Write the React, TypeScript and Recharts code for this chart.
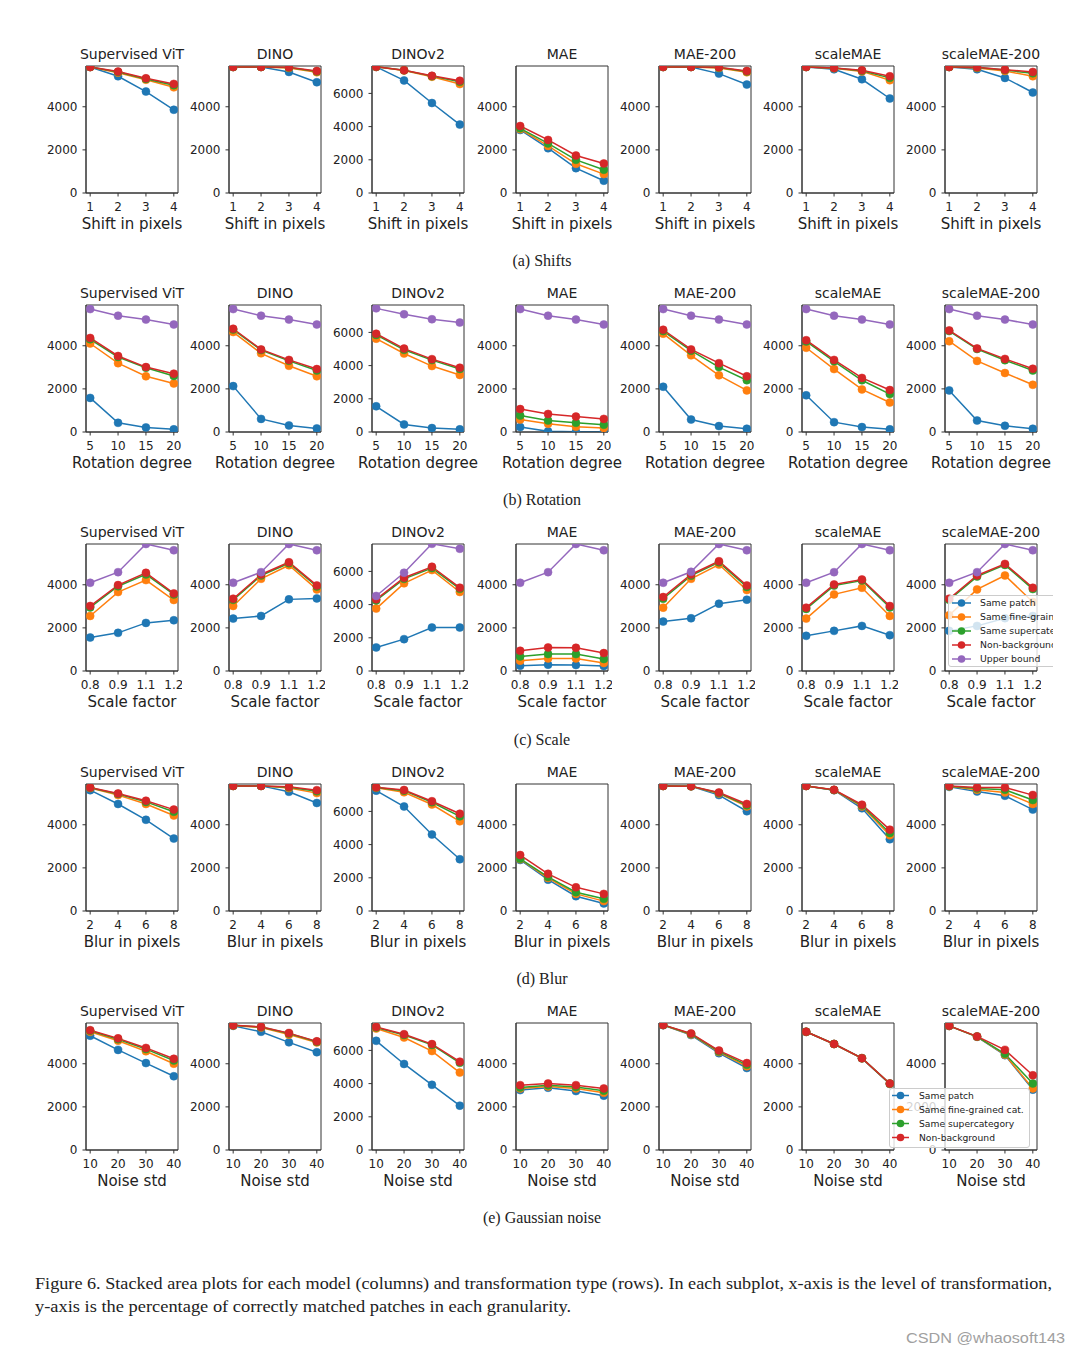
import React from "react";
import { LineChart, Line, XAxis, YAxis, ReferenceArea } from "recharts";

const models = ["Supervised ViT", "DINO", "DINOv2", "MAE", "MAE-200", "scaleMAE", "scaleMAE-200"];
const seriesNames = ["Same patch", "Same fine-grained cat.", "Same supercategory", "Non-background", "Upper bound"];
const seriesColors = ["#1f77b4", "#ff7f0e", "#2ca02c", "#d62728", "#9467bd"];

const shiftTicks = ["1", "2", "3", "4"];
const rotationTicks = ["5", "10", "15", "20"];
const scaleTicks = ["0.8", "0.9", "1.1", "1.2"];
const blurTicks = ["2", "4", "6", "8"];
const noiseTicks = ["10", "20", "30", "40"];

// ---- (a) Shifts ----
const shiftSamePatch = [
  [5845, 5414, 4706, 3860], [5845, 5845, 5614, 5137], [7600, 6780, 5420, 4120], [2922, 2076, 1153, 569],
  [5845, 5845, 5537, 5029], [5845, 5737, 5275, 4383], [5845, 5737, 5337, 4660],
];
const shiftFine = [
  [5840, 5580, 5250, 4900], [5845, 5845, 5800, 5600], [7600, 7380, 7000, 6560], [2960, 2184, 1353, 877],
  [5845, 5845, 5800, 5600], [5845, 5790, 5640, 5230], [5845, 5800, 5660, 5414],
];
const shiftSuper = [
  [5845, 5610, 5290, 5000], [5845, 5845, 5815, 5640], [7600, 7390, 7040, 6700], [3000, 2300, 1538, 1077],
  [5845, 5845, 5815, 5640], [5845, 5795, 5670, 5340], [5845, 5815, 5700, 5550],
];
const shiftNonBg = [
  [5845, 5630, 5320, 5060], [5845, 5845, 5830, 5660], [7600, 7400, 7060, 6760], [3107, 2461, 1738, 1369],
  [5845, 5845, 5830, 5660], [5845, 5800, 5690, 5414], [5845, 5830, 5720, 5614],
];

// ---- (b) Rotation ----
const rotSamePatch = [
  [1581, 426, 213, 122], [2128, 608, 304, 167], [1549, 457, 238, 159], [228, 30, 15, 10],
  [2098, 578, 274, 152], [1702, 456, 228, 122], [1930, 532, 289, 152],
];
const rotFine = [
  [4104, 3192, 2584, 2250], [4636, 3648, 3070, 2584], [5620, 4727, 3972, 3436], [578, 380, 243, 182],
  [4560, 3557, 2630, 1930], [3906, 2918, 1976, 1368], [4210, 3298, 2736, 2189],
];
const rotSuper = [
  [4300, 3480, 2980, 2600], [4750, 3800, 3300, 2850], [5850, 4950, 4330, 3800], [760, 532, 426, 334],
  [4680, 3770, 3010, 2402], [4200, 3280, 2400, 1760], [4680, 3850, 3330, 2850],
];
const rotNonBg = [
  [4362, 3526, 3010, 2706], [4788, 3830, 3344, 2918], [5918, 5024, 4389, 3873], [1064, 836, 714, 608],
  [4742, 3830, 3192, 2584], [4256, 3344, 2508, 1946], [4712, 3876, 3390, 2934],
];
const rotUpper = [
  [5700, 5396, 5214, 4986], [5700, 5396, 5214, 4986], [7447, 7090, 6792, 6593], [5700, 5396, 5214, 4986],
  [5700, 5396, 5214, 4986], [5700, 5396, 5214, 4986], [5700, 5396, 5214, 4986],
];

// ---- (c) Scale ----
const scaleSamePatch = [
  [1553, 1769, 2230, 2353], [2430, 2553, 3322, 3368], [1420, 1920, 2620, 2620], [246, 292, 277, 231],
  [2292, 2445, 3122, 3307], [1630, 1861, 2092, 1661], [1861, 2092, 2450, 2550],
];
const scaleFine = [
  [2553, 3661, 4215, 3292], [3015, 4276, 4906, 3784], [3760, 5280, 6080, 4760], [477, 584, 584, 369],
  [2938, 4276, 4937, 3753], [2430, 3553, 3860, 2553], [2584, 3784, 4430, 3200],
];
const scaleSuper = [
  [2950, 3930, 4480, 3550], [3300, 4430, 5000, 3920], [4250, 5550, 6200, 4950], [677, 784, 784, 554],
  [3350, 4420, 5040, 3900], [2880, 3960, 4200, 2950], [3300, 4380, 4920, 3800],
];
const scaleNonBg = [
  [3015, 3984, 4553, 3600], [3353, 4476, 5045, 3968], [4320, 5620, 6280, 5020], [938, 1092, 1077, 830],
  [3430, 4476, 5091, 3968], [2938, 4014, 4245, 3015], [3353, 4430, 4968, 3860],
];
const scaleUpper = [
  [4092, 4584, 5890, 5598], [4092, 4584, 5890, 5598], [4520, 5920, 7660, 7360], [4092, 4584, 5890, 5598],
  [4092, 4600, 5890, 5598], [4092, 4584, 5890, 5598], [4092, 4584, 5890, 5598],
];

// ---- (d) Blur ----
const blurSamePatch = [
  [5604, 4963, 4230, 3359], [5803, 5803, 5528, 5009], [7249, 6296, 4608, 3118], [2367, 1451, 687, 351],
  [5800, 5780, 5375, 4627], [5800, 5604, 4764, 3329], [5757, 5543, 5345, 4703],
];
const blurFine = [
  [5700, 5375, 4963, 4428], [5803, 5803, 5700, 5467], [7420, 7150, 6415, 5402], [2400, 1530, 794, 458],
  [5800, 5785, 5450, 4850], [5800, 5610, 4850, 3512], [5780, 5620, 5497, 4963],
];
const blurSuper = [
  [5720, 5430, 5060, 4600], [5803, 5803, 5740, 5550], [7440, 7250, 6550, 5700], [2420, 1580, 870, 565],
  [5800, 5788, 5470, 4900], [5800, 5615, 4890, 3620], [5790, 5680, 5620, 5146],
];
const blurNonBg = [
  [5726, 5451, 5115, 4703], [5803, 5803, 5757, 5604], [7448, 7289, 6613, 5859], [2596, 1725, 1099, 794],
  [5800, 5790, 5497, 4963], [5800, 5620, 4932, 3772], [5800, 5726, 5726, 5375],
];

// ---- (e) Gaussian noise ----
const noiseSamePatch = [
  [5299, 4642, 4031, 3420], [5757, 5482, 4993, 4535], [6577, 5182, 3926, 2671], [2779, 2886, 2733, 2520],
  [5790, 5329, 4489, 3802], [5482, 4917, 4250, 3060], [5757, 5250, 4400, 2800],
];
const noiseFine = [
  [5482, 5070, 4581, 4001], [5770, 5680, 5350, 4990], [7314, 6776, 5959, 4664], [2850, 2950, 2850, 2650],
  [5795, 5360, 4540, 3880], [5482, 4917, 4255, 3070], [5757, 5255, 4420, 2855],
];
const noiseSuper = [
  [5530, 5140, 4680, 4150], [5780, 5700, 5400, 5020], [7380, 6930, 6330, 5250], [2900, 3000, 2920, 2750],
  [5798, 5380, 4570, 3950], [5482, 4917, 4258, 3080], [5757, 5260, 4459, 3085],
];
const noiseNonBg = [
  [5558, 5177, 4734, 4230], [5780, 5711, 5421, 5039], [7414, 6976, 6378, 5321], [3008, 3085, 3008, 2855],
  [5802, 5405, 4611, 4031], [5482, 4917, 4260, 3085], [5757, 5268, 4642, 3466],
];

const yTicksStd = [0, 2000, 4000];
const yTicksBig = [0, 2000, 4000, 6000];
const yMaxStd = 5890;
const yMaxBig = 7650;

const rows = [
  { ticks: shiftTicks, xlabel: "Shift in pixels", caption: "(a) Shifts", series: [shiftSamePatch, shiftFine, shiftSuper, shiftNonBg, null] },
  { ticks: rotationTicks, xlabel: "Rotation degree", caption: "(b) Rotation", series: [rotSamePatch, rotFine, rotSuper, rotNonBg, rotUpper] },
  { ticks: scaleTicks, xlabel: "Scale factor", caption: "(c) Scale", series: [scaleSamePatch, scaleFine, scaleSuper, scaleNonBg, scaleUpper] },
  { ticks: blurTicks, xlabel: "Blur in pixels", caption: "(d) Blur", series: [blurSamePatch, blurFine, blurSuper, blurNonBg, null] },
  { ticks: noiseTicks, xlabel: "Noise std", caption: "(e) Gaussian noise", series: [noiseSamePatch, noiseFine, noiseSuper, noiseNonBg, null] },
];

const plotLefts = [86, 229, 372, 516, 659, 802, 945];
const plotTops = [66, 305, 544, 784, 1023];
const PW = 92;
const PH = 127;
const YW = 45;
const MR = 4;
const MT = 2;
const XH = 24;
const captionYs = [266, 505, 745, 984, 1223];

const FONT = "'DejaVu Sans', sans-serif";
const SERIF = "'Liberation Serif', 'Times New Roman', serif";
const TXT = "#222";

function Cell({ left, top, ticks, values, ymax, yticks }: any) {
  const data = ticks.map((_: string, i: number) => {
    const d: any = { x: i };
    values.forEach((arr: number[] | null, k: number) => {
      if (arr) d["s" + k] = arr[i];
    });
    return d;
  });
  return (
    <div style={{ position: "absolute", left: left - YW, top: top - MT }}>
      <LineChart width={YW + PW + MR} height={MT + PH + XH} data={data} margin={{ top: MT, right: MR, bottom: 0, left: 0 }}>
        <XAxis
          dataKey="x"
          type="number"
          domain={[-0.15, 3.15]}
          ticks={[0, 1, 2, 3]}
          interval={0}
          allowDataOverflow
          tickFormatter={(v: number) => ticks[v]}
          height={XH}
          tickSize={3.5}
          tickMargin={5.5}
          stroke="#333"
          tick={{ fontSize: 12, fill: TXT, fontFamily: FONT }}
        />
        <YAxis
          type="number"
          domain={[0, ymax]}
          ticks={yticks}
          interval={0}
          allowDataOverflow
          width={YW}
          tickSize={3.5}
          tickMargin={5}
          stroke="#333"
          tick={{ fontSize: 12, fill: TXT, fontFamily: FONT }}
        />
        <ReferenceArea x1={-0.15} x2={3.15} y1={0} y2={ymax} fill="none" stroke="#333" strokeWidth={1} />
        {values.map((arr: number[] | null, k: number) =>
          arr ? (
            <Line
              key={k}
              type="linear"
              dataKey={"s" + k}
              stroke={seriesColors[k]}
              strokeWidth={1.5}
              dot={{ r: 4, fill: seriesColors[k], stroke: seriesColors[k], strokeWidth: 0.5 }}
              activeDot={false}
              isAnimationActive={false}
            />
          ) : null
        )}
      </LineChart>
    </div>
  );
}

function LegendBox({ left, top, width, boxW, height, entries, firstY, rowH, lineX, markX, textX, fontSize }: any) {
  return (
    <svg style={{ position: "absolute", left, top, zIndex: 5, overflow: "hidden" }} width={width} height={height + 1}>
      <rect x={0.5} y={0.5} width={boxW - 1} height={height - 1} rx={2.5} fill="rgba(255,255,255,0.8)" stroke="#cccccc" strokeWidth={1} />
      {entries.map((k: number, i: number) => {
        const y = firstY + i * rowH;
        return (
          <g key={k}>
            <line x1={lineX[0]} x2={lineX[1]} y1={y} y2={y} stroke={seriesColors[k]} strokeWidth={1.5} />
            <circle cx={markX} cy={y} r={3.8} fill={seriesColors[k]} />
            <text x={textX} y={y + fontSize * 0.36} fontSize={fontSize} fontFamily={FONT} fill={TXT}>
              {seriesNames[k]}
            </text>
          </g>
        );
      })}
    </svg>
  );
}

export default function App() {
  return (
    <div style={{ position: "relative", width: 1080, height: 1355, overflow: "hidden", background: "#fff" }}>
      <style>{"body{margin:0}"}</style>
      <svg style={{ position: "absolute", left: 0, top: 0 }} width={1080} height={1355}>
        {rows.map((row, r) =>
          models.map((m, c) => (
            <g key={r + "-" + c}>
              <text x={plotLefts[c] + PW / 2} y={plotTops[r] - 7} textAnchor="middle" fontSize={14} fontFamily={FONT} fill={TXT}>
                {m}
              </text>
              <text x={plotLefts[c] + PW / 2} y={plotTops[r] + PH + 36} textAnchor="middle" fontSize={15} fontFamily={FONT} fill={TXT}>
                {row.xlabel}
              </text>
            </g>
          ))
        )}
        {rows.map((row, r) => (
          <text key={"cap" + r} x={542} y={captionYs[r]} textAnchor="middle" fontSize={16} fontFamily={SERIF} fill={TXT}>
            {row.caption}
          </text>
        ))}
        <text x={35} y={1289} fontSize={17} fontFamily={SERIF} fill={TXT} textLength={1017} lengthAdjust="spacingAndGlyphs">
          Figure 6. Stacked area plots for each model (columns) and transformation type (rows). In each subplot, x-axis is the level of transformation,
        </text>
        <text x={35} y={1312} fontSize={17} fontFamily={SERIF} fill={TXT} textLength={536} lengthAdjust="spacingAndGlyphs">
          y-axis is the percentage of correctly matched patches in each granularity.
        </text>
        <text x={906} y={1343} fontSize={15} fontFamily="'Liberation Sans', Arial, sans-serif" fill="#a0a0a0" textLength={159} lengthAdjust="spacingAndGlyphs">
          CSDN @whaosoft143
        </text>
      </svg>
      {rows.map((row, r) =>
        models.map((m, c) => (
          <Cell
            key={r + "_" + c}
            left={plotLefts[c]}
            top={plotTops[r]}
            ticks={row.ticks}
            values={row.series.map((s) => (s ? s[c] : null))}
            ymax={c === 2 ? yMaxBig : yMaxStd}
            yticks={c === 2 ? yTicksBig : yTicksStd}
          />
        ))
      )}
      <LegendBox
        left={948}
        top={595}
        width={105}
        boxW={140}
        height={72}
        entries={[0, 1, 2, 3, 4]}
        firstY={8}
        rowH={14}
        lineX={[4, 23]}
        markX={13.5}
        textX={32}
        fontSize={9.3}
      />
      <LegendBox
        left={889}
        top={1088}
        width={141}
        boxW={141}
        height={60}
        entries={[0, 1, 2, 3]}
        firstY={7.5}
        rowH={14}
        lineX={[3, 20]}
        markX={11.5}
        textX={30}
        fontSize={9.2}
      />
    </div>
  );
}
